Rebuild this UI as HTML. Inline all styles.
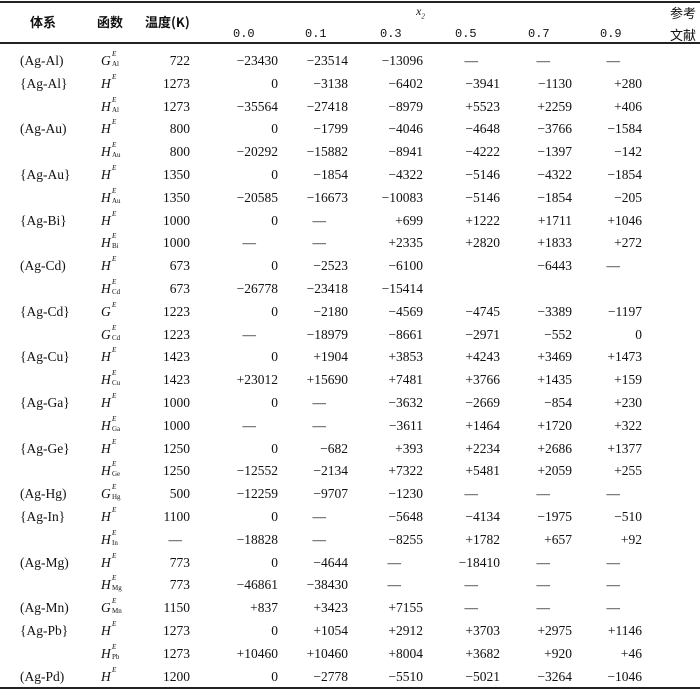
<!DOCTYPE html>
<html><head><meta charset="utf-8"><style>
body{margin:0;background:#fff;width:700px;height:692px;overflow:hidden;position:relative;font-family:"Liberation Serif","Noto Serif CJK SC",serif;color:#111}
.l{position:absolute;left:0;width:700px;background:#222}
table{position:absolute;left:0;top:50px;border-collapse:collapse;table-layout:fixed;width:700px;font-size:13.5px}
td{height:22.8px;padding:0;white-space:nowrap;text-align:right;line-height:22.8px}
td.s{text-align:left;padding-left:20px}
td.f{text-align:left;padding-left:6px;font-style:italic}
td.d{padding-right:22px}
.fn{display:inline-block;position:relative;width:40px}
.fn sup,.fn sub{position:absolute;left:11px;font-size:7px;font-style:normal;line-height:7px}
.fn sup{top:1px;font-style:italic}.fn sub{top:11px}
.h{position:absolute;font-size:13.5px}
</style></head><body>
<div class="l" style="top:1px;height:2px"></div>
<div class="l" style="top:42px;height:1.5px"></div>
<div class="l" style="top:687px;height:2px"></div>
<div class="h" style="left:30px;top:12px;font-family:'Noto Sans CJK SC',sans-serif;font-weight:bold;font-size:13px">体系</div>
<div class="h" style="left:97px;top:12px;font-family:'Noto Sans CJK SC',sans-serif;font-weight:bold;font-size:13px">函数</div>
<div class="h" style="left:145px;top:12px;font-family:'Noto Sans CJK SC',sans-serif;font-weight:bold;font-size:13px">温度(K)</div>
<div class="h" style="left:416px;top:4px;font-style:italic;font-size:12px">x<sub style="font-size:7px">2</sub></div>
<div class="h" style="left:233px;top:27px;font-family:'Liberation Mono',monospace;font-size:12px">0.0</div>
<div class="h" style="left:305px;top:27px;font-family:'Liberation Mono',monospace;font-size:12px">0.1</div>
<div class="h" style="left:380px;top:27px;font-family:'Liberation Mono',monospace;font-size:12px">0.3</div>
<div class="h" style="left:455px;top:27px;font-family:'Liberation Mono',monospace;font-size:12px">0.5</div>
<div class="h" style="left:528px;top:27px;font-family:'Liberation Mono',monospace;font-size:12px">0.7</div>
<div class="h" style="left:600px;top:27px;font-family:'Liberation Mono',monospace;font-size:12px">0.9</div>
<div class="h" style="left:670px;top:3px;font-family:'Noto Sans CJK SC',sans-serif;font-size:13px">参考</div>
<div class="h" style="left:670px;top:25px;font-family:'Noto Sans CJK SC',sans-serif;font-size:13px">文献</div>
<table>
<colgroup><col style="width:95px"><col style="width:55px"><col style="width:40px"><col style="width:88px"><col style="width:70px"><col style="width:75px"><col style="width:77px"><col style="width:72px"><col style="width:70px"><col style="width:58px"></colgroup>
<tr><td class="s">(Ag-Al)</td><td class="f"><span class="fn">G<sup>E</sup><sub>Al</sub></span></td><td>722</td><td>−23430</td><td>−23514</td><td>−13096</td><td class="d">—</td><td class="d">—</td><td class="d">—</td><td></td></tr>
<tr><td class="s">{Ag-Al}</td><td class="f"><span class="fn">H<sup>E</sup></span></td><td>1273</td><td>0</td><td>−3138</td><td>−6402</td><td>−3941</td><td>−1130</td><td>+280</td><td></td></tr>
<tr><td class="s"></td><td class="f"><span class="fn">H<sup>E</sup><sub>Al</sub></span></td><td>1273</td><td>−35564</td><td>−27418</td><td>−8979</td><td>+5523</td><td>+2259</td><td>+406</td><td></td></tr>
<tr><td class="s">(Ag-Au)</td><td class="f"><span class="fn">H<sup>E</sup></span></td><td>800</td><td>0</td><td>−1799</td><td>−4046</td><td>−4648</td><td>−3766</td><td>−1584</td><td></td></tr>
<tr><td class="s"></td><td class="f"><span class="fn">H<sup>E</sup><sub>Au</sub></span></td><td>800</td><td>−20292</td><td>−15882</td><td>−8941</td><td>−4222</td><td>−1397</td><td>−142</td><td></td></tr>
<tr><td class="s">{Ag-Au}</td><td class="f"><span class="fn">H<sup>E</sup></span></td><td>1350</td><td>0</td><td>−1854</td><td>−4322</td><td>−5146</td><td>−4322</td><td>−1854</td><td></td></tr>
<tr><td class="s"></td><td class="f"><span class="fn">H<sup>E</sup><sub>Au</sub></span></td><td>1350</td><td>−20585</td><td>−16673</td><td>−10083</td><td>−5146</td><td>−1854</td><td>−205</td><td></td></tr>
<tr><td class="s">{Ag-Bi}</td><td class="f"><span class="fn">H<sup>E</sup></span></td><td>1000</td><td>0</td><td class="d">—</td><td>+699</td><td>+1222</td><td>+1711</td><td>+1046</td><td></td></tr>
<tr><td class="s"></td><td class="f"><span class="fn">H<sup>E</sup><sub>Bi</sub></span></td><td>1000</td><td class="d">—</td><td class="d">—</td><td>+2335</td><td>+2820</td><td>+1833</td><td>+272</td><td></td></tr>
<tr><td class="s">(Ag-Cd)</td><td class="f"><span class="fn">H<sup>E</sup></span></td><td>673</td><td>0</td><td>−2523</td><td>−6100</td><td></td><td>−6443</td><td class="d">—</td><td></td></tr>
<tr><td class="s"></td><td class="f"><span class="fn">H<sup>E</sup><sub>Cd</sub></span></td><td>673</td><td>−26778</td><td>−23418</td><td>−15414</td><td></td><td></td><td></td><td></td></tr>
<tr><td class="s">{Ag-Cd}</td><td class="f"><span class="fn">G<sup>E</sup></span></td><td>1223</td><td>0</td><td>−2180</td><td>−4569</td><td>−4745</td><td>−3389</td><td>−1197</td><td></td></tr>
<tr><td class="s"></td><td class="f"><span class="fn">G<sup>E</sup><sub>Cd</sub></span></td><td>1223</td><td class="d">—</td><td>−18979</td><td>−8661</td><td>−2971</td><td>−552</td><td>0</td><td></td></tr>
<tr><td class="s">{Ag-Cu}</td><td class="f"><span class="fn">H<sup>E</sup></span></td><td>1423</td><td>0</td><td>+1904</td><td>+3853</td><td>+4243</td><td>+3469</td><td>+1473</td><td></td></tr>
<tr><td class="s"></td><td class="f"><span class="fn">H<sup>E</sup><sub>Cu</sub></span></td><td>1423</td><td>+23012</td><td>+15690</td><td>+7481</td><td>+3766</td><td>+1435</td><td>+159</td><td></td></tr>
<tr><td class="s">{Ag-Ga}</td><td class="f"><span class="fn">H<sup>E</sup></span></td><td>1000</td><td>0</td><td class="d">—</td><td>−3632</td><td>−2669</td><td>−854</td><td>+230</td><td></td></tr>
<tr><td class="s"></td><td class="f"><span class="fn">H<sup>E</sup><sub>Ga</sub></span></td><td>1000</td><td class="d">—</td><td class="d">—</td><td>−3611</td><td>+1464</td><td>+1720</td><td>+322</td><td></td></tr>
<tr><td class="s">{Ag-Ge}</td><td class="f"><span class="fn">H<sup>E</sup></span></td><td>1250</td><td>0</td><td>−682</td><td>+393</td><td>+2234</td><td>+2686</td><td>+1377</td><td></td></tr>
<tr><td class="s"></td><td class="f"><span class="fn">H<sup>E</sup><sub>Ge</sub></span></td><td>1250</td><td>−12552</td><td>−2134</td><td>+7322</td><td>+5481</td><td>+2059</td><td>+255</td><td></td></tr>
<tr><td class="s">(Ag-Hg)</td><td class="f"><span class="fn">G<sup>E</sup><sub>Hg</sub></span></td><td>500</td><td>−12259</td><td>−9707</td><td>−1230</td><td class="d">—</td><td class="d">—</td><td class="d">—</td><td></td></tr>
<tr><td class="s">{Ag-In}</td><td class="f"><span class="fn">H<sup>E</sup></span></td><td>1100</td><td>0</td><td class="d">—</td><td>−5648</td><td>−4134</td><td>−1975</td><td>−510</td><td></td></tr>
<tr><td class="s"></td><td class="f"><span class="fn">H<sup>E</sup><sub>In</sub></span></td><td class="d" style="padding-right:8px">—</td><td>−18828</td><td class="d">—</td><td>−8255</td><td>+1782</td><td>+657</td><td>+92</td><td></td></tr>
<tr><td class="s">(Ag-Mg)</td><td class="f"><span class="fn">H<sup>E</sup></span></td><td>773</td><td>0</td><td>−4644</td><td class="d">—</td><td>−18410</td><td class="d">—</td><td class="d">—</td><td></td></tr>
<tr><td class="s"></td><td class="f"><span class="fn">H<sup>E</sup><sub>Mg</sub></span></td><td>773</td><td>−46861</td><td>−38430</td><td class="d">—</td><td class="d">—</td><td class="d">—</td><td class="d">—</td><td></td></tr>
<tr><td class="s">(Ag-Mn)</td><td class="f"><span class="fn">G<sup>E</sup><sub>Mn</sub></span></td><td>1150</td><td>+837</td><td>+3423</td><td>+7155</td><td class="d">—</td><td class="d">—</td><td class="d">—</td><td></td></tr>
<tr><td class="s">{Ag-Pb}</td><td class="f"><span class="fn">H<sup>E</sup></span></td><td>1273</td><td>0</td><td>+1054</td><td>+2912</td><td>+3703</td><td>+2975</td><td>+1146</td><td></td></tr>
<tr><td class="s"></td><td class="f"><span class="fn">H<sup>E</sup><sub>Pb</sub></span></td><td>1273</td><td>+10460</td><td>+10460</td><td>+8004</td><td>+3682</td><td>+920</td><td>+46</td><td></td></tr>
<tr><td class="s">(Ag-Pd)</td><td class="f"><span class="fn">H<sup>E</sup></span></td><td>1200</td><td>0</td><td>−2778</td><td>−5510</td><td>−5021</td><td>−3264</td><td>−1046</td><td></td></tr>
</table>
</body></html>
